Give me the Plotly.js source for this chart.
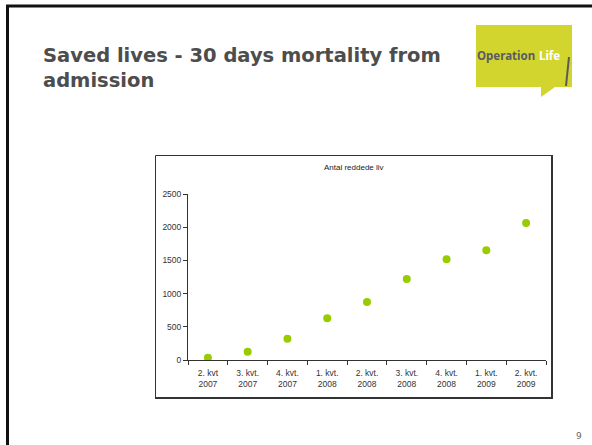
<!DOCTYPE html>
<html>
<head>
<meta charset="utf-8">
<script src="https://cdn.plot.ly/plotly-3.0.1.min.js"></script>
<style>html,body{margin:0;padding:0;background:#fff;}#chart{width:592px;height:445px;}</style>
</head>
<body>
<div id="chart"></div>
<script>
const categories = ["2. kvt<br>2007","3. kvt.<br>2007","4. kvt.<br>2007","1. kvt.<br>2008","2. kvt.<br>2008","3. kvt.<br>2008","4. kvt.<br>2008","1. kvt.<br>2009","2. kvt.<br>2009"];
const savedLives = [35, 125, 321, 628, 873, 1220, 1516, 1652, 2063];
const yTicks = [0, 500, 1000, 1500, 2000, 2500];
const slideTitle = "Saved lives - 30 days mortality from<br>admission";
const chartTitle = "Antal reddede liv";
const pageNumber = "9";

// plot area in pixels
const L = 188, R = 546, T = 194, B = 360, W = 592, H = 445;
const px = x => (x - L) / (R - L);
const py = y => (B - y) / (B - T);

const shapes = [
  // slide frame
  {type:'rect', xref:'paper', yref:'paper', x0:px(7.5), x1:px(610), y0:py(6), y1:py(460), line:{color:'#111', width:3}, layer:'below'},
  // chart box
  {type:'rect', xref:'paper', yref:'paper', x0:px(155.5), x1:px(552), y0:py(155.5), y1:py(398), line:{color:'#333', width:1}, layer:'below'},
  {type:'line', xref:'paper', yref:'paper', x0:px(552), x1:px(552), y0:py(155), y1:py(399), line:{color:'#333', width:2}},
  {type:'line', xref:'paper', yref:'paper', x0:px(155), x1:px(553), y0:py(398), y1:py(398), line:{color:'#333', width:2}},
  // logo speech bubble
  {type:'path', xref:'paper', yref:'paper', fillcolor:'#d2d52e', line:{width:0},
   path:`M ${px(476)} ${py(25)} L ${px(572)} ${py(25)} L ${px(572)} ${py(87)} L ${px(555)} ${py(87)} L ${px(541)} ${py(97)} L ${px(541)} ${py(87)} L ${px(476)} ${py(87)} Z`},
  {type:'line', xref:'paper', yref:'paper', x0:px(569), x1:px(566), y0:py(57), y1:py(86), line:{color:'#5a5a5a', width:2}}
];

const annotations = [
  {text:slideTitle, xref:'paper', yref:'paper', x:px(41), y:py(42), xanchor:'left', yanchor:'top', align:'left', showarrow:false,
   font:{family:'DejaVu Sans, Verdana, sans-serif', size:19.5, color:'#4d4d4d', weight:'bold'}},
  {text:'<b>Operation</b>', xref:'paper', yref:'paper', x:px(475), y:py(55), xanchor:'left', yanchor:'middle', showarrow:false,
   font:{family:'Noto Sans, sans-serif', size:11.5, color:'#5a5a66'}},
  {text:'<b>Life</b>', xref:'paper', yref:'paper', x:px(537), y:py(55), xanchor:'left', yanchor:'middle', showarrow:false,
   font:{family:'Noto Sans, sans-serif', size:11.5, color:'#ffffff'}},
  {text:chartTitle, xref:'paper', yref:'paper', x:px(354), y:py(167), xanchor:'center', yanchor:'middle', showarrow:false,
   font:{family:'Liberation Sans, Arial, sans-serif', size:8, color:'#222'}},
  {text:pageNumber, xref:'paper', yref:'paper', x:px(584), y:py(436), xanchor:'right', yanchor:'middle', showarrow:false,
   font:{family:'DejaVu Sans, sans-serif', size:9, color:'#666'}}
];

const trace = {
  x: categories, y: savedLives, type:'scatter', mode:'markers',
  marker:{color:'#99cc00', size:8}, hoverinfo:'skip'
};

const layout = {
  width:W, height:H,
  margin:{l:L, r:W-R, t:T, b:H-B, pad:0},
  paper_bgcolor:'#fff', plot_bgcolor:'#fff',
  showlegend:false,
  xaxis:{type:'category', range:[-0.5, categories.length-0.5], showgrid:false, zeroline:false,
    showline:true, linecolor:'#333', linewidth:1, ticks:'outside', ticklen:4, tickcolor:'#333',
    tickson:'boundaries', ticklabelstandoff:5,
    tickfont:{family:'Liberation Sans, Arial, sans-serif', size:8.5, color:'#333'}, fixedrange:true},
  yaxis:{range:[0,2500], tickvals:yTicks, ticktext:yTicks.map(String), showgrid:false, zeroline:false,
    showline:true, linecolor:'#333', linewidth:1, ticks:'outside', ticklen:4, tickcolor:'#333',
    tickfont:{family:'Liberation Sans, Arial, sans-serif', size:8.5, color:'#333'}, fixedrange:true},
  shapes: shapes,
  annotations: annotations
};

Plotly.newPlot('chart', [trace], layout, {staticPlot:true, displayModeBar:false});
</script>
</body>
</html>
